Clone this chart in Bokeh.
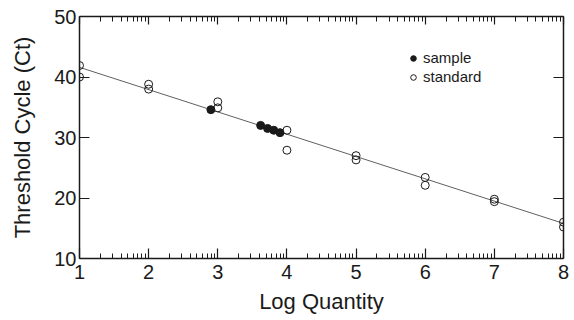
import math
from bokeh.plotting import figure
from bokeh.models import LinearAxis, FixedTicker, Legend, LegendItem, Range1d
from bokeh.embed import file_html
from bokeh.resources import INLINE

# standards (open circles)
std_x = [1, 1, 2, 2, 3, 3, 4, 4, 5, 5, 6, 6, 7, 7, 8, 8]
std_y = [41.9, 40.0, 38.8, 38.0, 35.9, 34.9, 31.2, 27.9, 27.0, 26.3, 23.4, 22.1, 19.8, 19.4, 16.0, 15.2]
# samples (filled circles)
smp_x = [2.9, 3.62, 3.72, 3.81, 3.9]
smp_y = [34.6, 32.0, 31.5, 31.2, 30.8]
# regression line
fit_x = [1, 8]
fit_y = [41.6, 15.8]

x_ticks = [1, 2, 3, 4, 5, 6, 7, 8]
y_ticks = [10, 20, 30, 40, 50]
x_minor = [i + math.log10(k) for i in range(1, 8) for k in range(2, 10)]

FONT = "Liberation Sans"
INK = "#1a1a1a"

p = figure(width=572, height=318, output_backend="svg", toolbar_location=None,
           x_range=Range1d(1, 8), y_range=Range1d(10, 50),
           min_border_left=79, min_border_right=9, min_border_top=16, min_border_bottom=60)
p.outline_line_color = None
p.grid.visible = False
p.background_fill_color = "white"

def style_axis(ax, ticks, labels=True):
    ax.axis_line_color = INK
    ax.axis_line_width = 1.5
    ax.major_tick_line_color = INK
    ax.minor_tick_line_color = INK
    ax.major_tick_line_width = 1.2
    ax.minor_tick_line_width = 1
    ax.major_tick_out = 0
    ax.minor_tick_out = 0
    ax.major_tick_in = 10
    ax.minor_tick_in = 5
    ax.major_label_text_font = FONT
    ax.major_label_text_color = INK
    ax.major_label_text_font_size = "20px"
    if not labels:
        ax.major_label_overrides = {t: "" for t in ticks}
        ax.major_label_standoff = 0

xa = p.xaxis[0]
xa.ticker = FixedTicker(ticks=x_ticks, minor_ticks=x_minor)
style_axis(xa, x_ticks)
xa.major_label_standoff = 6
xa.axis_label = "Log Quantity"
xa.axis_label_text_font = FONT
xa.axis_label_text_font_size = "22px"
xa.axis_label_text_font_style = "normal"
xa.axis_label_text_color = INK
xa.axis_label_standoff = 7

ya = p.yaxis[0]
ya.ticker = FixedTicker(ticks=y_ticks, minor_ticks=[])
style_axis(ya, y_ticks)
ya.major_label_standoff = 3
ya.axis_label = "Threshold Cycle (Ct)"
ya.axis_label_text_font = FONT
ya.axis_label_text_font_size = "22px"
ya.axis_label_text_font_style = "normal"
ya.axis_label_text_color = INK
ya.axis_label_standoff = 16

top = LinearAxis(ticker=FixedTicker(ticks=x_ticks, minor_ticks=x_minor))
style_axis(top, x_ticks, labels=False)
top.major_tick_in = 8
p.add_layout(top, "above")
right = LinearAxis(ticker=FixedTicker(ticks=y_ticks, minor_ticks=[]))
style_axis(right, y_ticks, labels=False)
p.add_layout(right, "right")

p.line(fit_x, fit_y, line_color="#606060", line_width=1)
r_std = p.scatter(std_x, std_y, size=8, marker="circle", fill_color="white", fill_alpha=0,
                  line_color=INK, line_width=1)
r_smp = p.scatter(smp_x, smp_y, size=8, marker="circle", fill_color=INK,
                  line_color=INK, line_width=1)

legend = Legend(items=[LegendItem(label="sample", renderers=[r_smp]),
                       LegendItem(label="standard", renderers=[r_std])],
                location=(327, 172), orientation="vertical",
                border_line_color=None, background_fill_alpha=0,
                label_text_font=FONT, label_text_font_size="15px", label_text_color=INK,
                glyph_width=14, glyph_height=14, label_height=19, spacing=0,
                padding=0, margin=0, label_standoff=3)
p.add_layout(legend)

open("out.html", "w").write(file_html(p, INLINE))
